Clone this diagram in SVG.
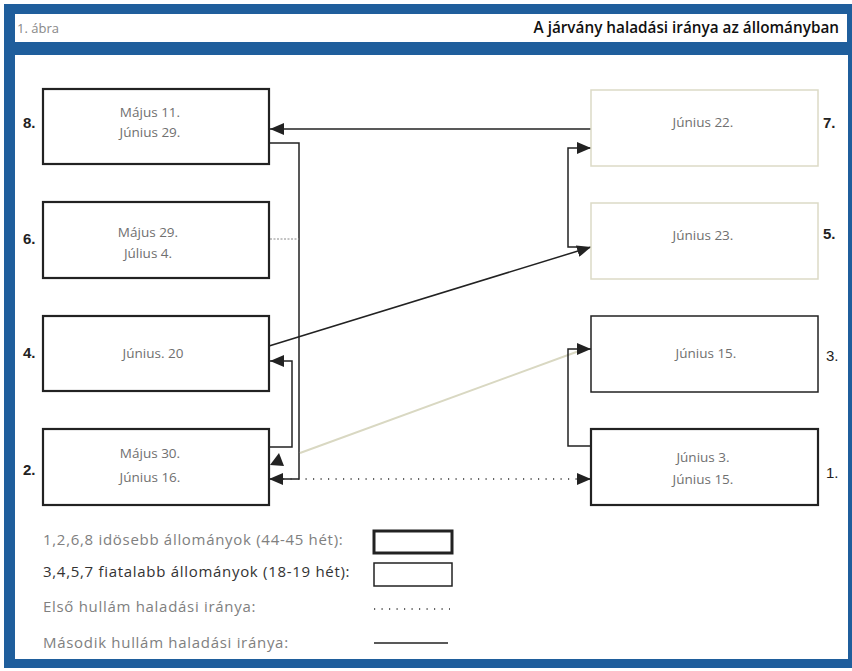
<svg xmlns="http://www.w3.org/2000/svg" width="852" height="671" viewBox="0 0 852 671">
<style>
.frame{fill:#1f5e9c}
.panel{fill:#ffffff}
.old{fill:#fff;stroke:#222;stroke-width:2.2}
.young{fill:#fff;stroke:#222;stroke-width:1.5}
.pale{fill:#fff;stroke:#dcdac6;stroke-width:1.5}
.bt{font-family:"Open Sans","Liberation Sans",sans-serif;font-size:13.5px;fill:#707070;text-anchor:middle}
.num{font-family:"Liberation Sans",Arial,sans-serif;font-size:15px;font-weight:bold;fill:#222}
.numr{font-family:"Liberation Sans",Arial,sans-serif;font-size:15px;fill:#222}
.leg{font-family:"Open Sans","Liberation Sans",sans-serif;font-size:15px;letter-spacing:0.7px;fill:#808080}
.ln{fill:none;stroke:#222;stroke-width:1.5}
.dot{fill:none;stroke:#333;stroke-width:1.5;stroke-dasharray:1.2 6.3}
.beige{fill:none;stroke:#d9d8c2;stroke-width:2}
</style>
<defs>
<marker id="ah" viewBox="0 0 14 12" refX="14" refY="6" markerWidth="14" markerHeight="12" markerUnits="userSpaceOnUse" orient="auto">
<path d="M0,0 L14,6 L0,12 Z" fill="#222"/>
</marker>
</defs>
<rect width="852" height="671" fill="#fff"/>
<rect class="frame" x="4" y="4" width="848" height="664"/>
<rect class="panel" x="15" y="14" width="832" height="28"/>
<rect class="panel" x="15" y="55" width="833" height="604"/>
<text x="17" y="33" font-family="'Open Sans','Liberation Sans',sans-serif" font-size="13" fill="#888">1. ábra</text>
<text x="839" y="33" font-family="'Open Sans','Liberation Sans',sans-serif" font-size="15.3" font-weight="600" fill="#111" text-anchor="end">A járvány haladási iránya az állományban</text>

<g id="connectors">
<path class="ln" d="M591,129 H270" marker-end="url(#ah)"/>
<path class="ln" d="M269,143 H299 V479 H283"/>
<path class="dot" d="M283,479 H578"/>
<path d="M283,479 L269,479" marker-end="url(#ah)" class="ln"/>
<path d="M578,479 L591,479" marker-end="url(#ah)" class="ln"/>
<path d="M270,239 H299" fill="none" stroke="#888" stroke-width="1" stroke-dasharray="2 1.5"/>
<path class="ln" d="M269,447 H292 V361 H270" marker-end="url(#ah)"/>
<path class="ln" d="M269,346 L591,247" marker-end="url(#ah)"/>
<path class="ln" d="M580,247 H568 V148 H591" marker-end="url(#ah)"/>
<path class="beige" d="M300,453 L579,351"/>
<path class="ln" d="M591,446 H568 V349 H591" marker-end="url(#ah)"/>
<polygon points="279,453 284,466 270,465" fill="#222"/>
</g>

<g id="node8">
<rect class="old" x="43" y="89" width="226" height="75"/>
<text class="bt" x="150" y="117">Május 11.</text>
<text class="bt" x="150" y="137">Június 29.</text>
<text class="num" x="23" y="128">8.</text>
</g>
<g id="node6">
<rect class="old" x="43" y="202" width="226" height="76"/>
<text class="bt" x="148" y="237">Május 29.</text>
<text class="bt" x="148" y="258">Július 4.</text>
<text class="num" x="23" y="244">6.</text>
</g>
<g id="node4">
<rect class="old" x="43" y="316" width="226" height="75"/>
<text class="bt" x="153" y="358">Június. 20</text>
<text class="num" x="23" y="358">4.</text>
</g>
<g id="node2">
<rect class="old" x="43" y="429" width="226" height="76"/>
<text class="bt" x="150" y="458">Május 30.</text>
<text class="bt" x="150" y="482">Június 16.</text>
<text class="num" x="23" y="475">2.</text>
</g>
<g id="node7">
<rect class="pale" x="591" y="90" width="227" height="76"/>
<text class="bt" x="703" y="127">Június 22.</text>
<text class="num" x="823" y="128">7.</text>
</g>
<g id="node5">
<rect class="pale" x="591" y="203" width="227" height="76"/>
<text class="bt" x="703" y="240">Június 23.</text>
<text class="num" x="823" y="239">5.</text>
</g>
<g id="node3">
<rect class="young" x="591" y="316" width="227" height="76"/>
<text class="bt" x="706" y="358">Június 15.</text>
<text class="numr" x="826" y="361">3.</text>
</g>
<g id="node1">
<rect class="old" x="591" y="429" width="227" height="76"/>
<text class="bt" x="703" y="462">Június 3.</text>
<text class="bt" x="703" y="484">Június 15.</text>
<text class="numr" x="826" y="478">1.</text>
</g>

<g id="legend">
<text class="leg" x="43" y="545">1,2,6,8 idösebb állományok (44-45 hét):</text>
<rect x="374" y="531" width="78" height="22" fill="#fff" stroke="#222" stroke-width="3"/>
<text class="leg" x="43" y="577" style="fill:#333">3,4,5,7 fiatalabb állományok (18-19 hét):</text>
<rect x="374" y="563" width="78" height="23" fill="#fff" stroke="#222" stroke-width="1.5"/>
<text class="leg" x="43" y="612">Első hullám haladási iránya:</text>
<path class="dot" d="M374,609 H450"/>
<text class="leg" x="43" y="648">Második hullám haladási iránya:</text>
<path class="ln" d="M374,643 H448"/>
</g>
</svg>
